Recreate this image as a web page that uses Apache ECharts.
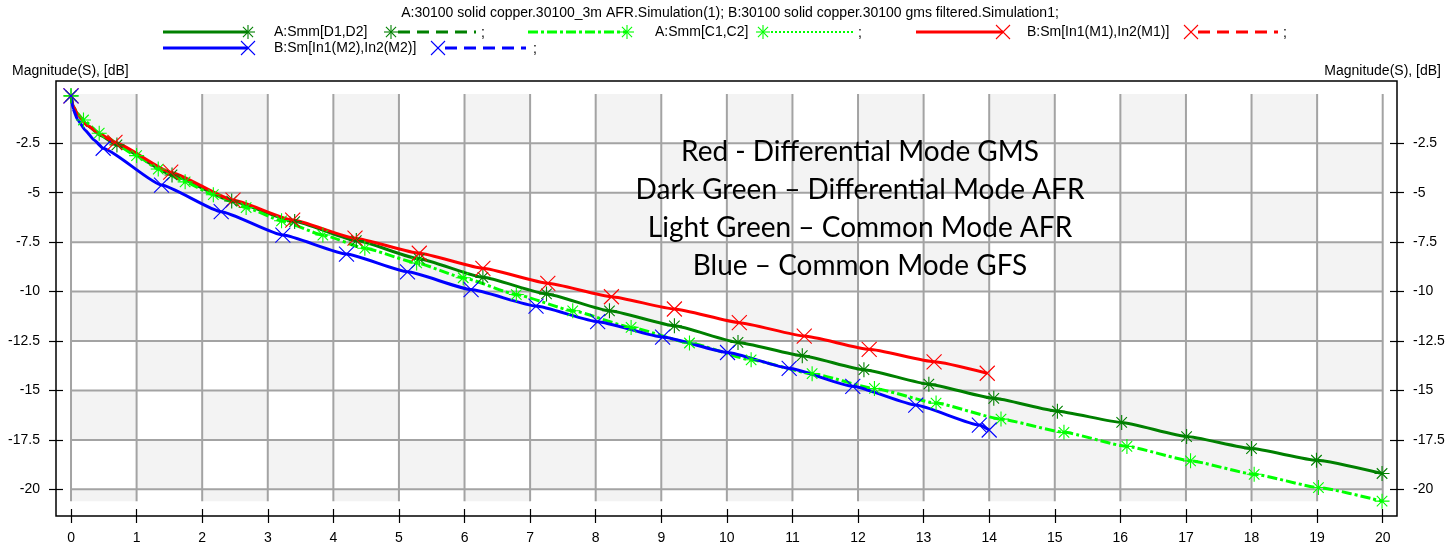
<!DOCTYPE html>
<html>
<head>
<meta charset="utf-8">
<script src="https://cdn.jsdelivr.net/npm/echarts@6/dist/echarts.min.js"></script>
<style>
  html, body { margin: 0; padding: 0; background: #fff; }
  #chart { width: 1445px; height: 550px; }
</style>
</head>
<body>
<div id="chart"></div>
<script>
// ---- text ----
const chartTitle = 'A:30100 solid copper.30100_3m AFR.Simulation(1); B:30100 solid copper.30100 gms filtered.Simulation1;';
const axisName = 'Magnitude(S), [dB]';
const seriesNames = ['A:Smm[D1,D2]', 'A:Smm[C1,C2]', 'B:Sm[In1(M1),In2(M1)]', 'B:Sm[In1(M2),In2(M2)]'];
const noteLines = [
  'Red - Differential Mode GMS',
  'Dark Green \u2013 Differential Mode AFR',
  'Light Green \u2013 Common Mode AFR',
  'Blue \u2013 Common Mode GFS'
];

// ---- ticks ----
const xTicks = [0, 1, 2, 3, 4, 5, 6, 7, 8, 9, 10, 11, 12, 13, 14, 15, 16, 17, 18, 19, 20];
const yTicks = [-2.5, -5, -7.5, -10, -12.5, -15, -17.5, -20];
const yBands = [0, -2.5, -5, -7.5, -10, -12.5, -15, -17.5, -20, -20.6];

// ---- data: [x, dB] ; "marked" points carry a marker, "shape" points do not ----
const dmAfrMarked = [[0, -0.1], [0.70, -2.58], [1.54, -4.10], [2.45, -5.42], [3.41, -6.46], [4.35, -7.42],
  [5.31, -8.35], [6.28, -9.28], [7.25, -10.12], [8.21, -10.97], [9.2, -11.73], [10.17, -12.57],
  [11.15, -13.24], [12.09, -13.95], [13.08, -14.68], [14.07, -15.40], [15.04, -16.05], [16.02, -16.62],
  [17.01, -17.33], [18.0, -17.94], [18.99, -18.53], [19.99, -19.2]];
const dmAfrShape = [[0.03, -0.6], [0.1, -1.05], [0.25, -1.6], [0.45, -2.1]];

const cmAfrMarked = [[0, -0.1], [0.19, -1.32], [0.43, -1.99], [1.0, -3.12], [1.33, -3.8], [1.74, -4.45],
  [2.17, -5.1], [2.67, -5.75], [3.21, -6.42], [3.84, -7.14], [4.48, -7.81], [5.27, -8.55], [5.98, -9.3],
  [6.79, -10.15], [7.65, -10.97], [8.54, -11.81], [9.43, -12.6], [10.37, -13.45], [11.3, -14.15],
  [12.25, -14.9], [13.19, -15.64], [14.18, -16.45], [15.14, -17.12], [16.1, -17.83], [17.07, -18.56],
  [18.04, -19.24], [19.02, -19.91], [19.99, -20.6]];
const cmAfrShape = [[0.03, -0.6], [0.09, -0.95]];

const dmGmsMarked = [[0, -0.1], [0.67, -2.45], [1.52, -3.96], [2.47, -5.37], [3.38, -6.38], [4.33, -7.30],
  [5.31, -8.06], [6.28, -8.82], [7.27, -9.58], [8.24, -10.26], [9.2, -10.88], [10.19, -11.57],
  [11.18, -12.25], [12.17, -12.92], [13.16, -13.55], [13.97, -14.13]];
const dmGmsShape = [[0.03, -0.6], [0.1, -1.05], [0.25, -1.6], [0.45, -2.05]];

const cmGfsMarked = [[0, -0.1], [0.49, -2.75], [1.38, -4.61], [2.29, -5.96], [3.23, -7.14], [4.2, -8.1],
  [5.13, -9.0], [6.1, -9.9], [7.09, -10.73], [8.03, -11.52], [9.02, -12.3], [10.01, -13.08],
  [10.95, -13.88], [11.92, -14.79], [12.88, -15.74], [13.85, -16.75], [14.0, -17.0]];
const cmGfsShape = [[0.03, -0.75], [0.1, -1.3], [0.22, -1.85], [0.35, -2.33]];

// ---- styling ----
const UI_FONT = "'Liberation Sans', Arial, sans-serif";
const NOTE_FONT = "Lato, 'Open Sans', sans-serif";
const C_DKGREEN = '#008000', C_LTGREEN = '#00ff00', C_RED = '#ff0000', C_BLUE = '#0000ff';
const STAR = 'path://M6,0L6,12M0,6L12,6M1.8,1.8L10.2,10.2M10.2,1.8L1.8,10.2';
const CROSS = 'path://M0,0L12,12M12,0L0,12';
const DASH_DOT = [10, 3, 3, 3];

// axis frame extends a little past the shaded data area
const X_MIN = -0.229, X_MAX = 20.218, Y_MIN = -21.35, Y_MAX = 0.652;

function buildData(marked, shape) {
  const pts = marked.map(p => ({ value: p }))
    .concat(shape.map(p => ({ value: p, symbol: 'none' })));
  pts.sort((a, b) => a.value[0] - b.value[0]);
  return pts;
}

function lineSeries(name, marked, shape, color, symbol, dash, size) {
  return {
    type: 'line', name, data: buildData(marked, shape),
    xAxisIndex: 0, yAxisIndex: 0,
    smooth: 0.15, smoothMonotone: 'x',
    symbol, symbolSize: size, showSymbol: true,
    lineStyle: { color, width: 3, type: dash },
    itemStyle: { color: 'rgba(0,0,0,0)', borderColor: color, borderWidth: 1.1 },
    z: 5, silent: true
  };
}

// checkerboard cells and grid segments built from tick positions
const cells = [];
for (let i = 0; i < xTicks.length - 1; i++) {
  for (let j = 0; j < yBands.length - 1; j++) {
    if ((i + j) % 2 === 0) cells.push([xTicks[i], xTicks[i + 1], yBands[j], yBands[j + 1]]);
  }
}
const gridSegs = [];
xTicks.forEach(x => gridSegs.push([x, yBands[0], x, yBands[yBands.length - 1]]));
yTicks.forEach(y => gridSegs.push([xTicks[0], y, xTicks[xTicks.length - 1], y]));

// ---- legend drawing helpers ----
function markerLines(kind, cx, cy, r, color) {
  const d = r * 0.72;
  const segs = kind === 'star'
    ? [[-r, 0, r, 0], [0, -r, 0, r], [-d, -d, d, d], [d, -d, -d, d]]
    : [[-r, -r, r, r], [r, -r, -r, r]];
  return segs.map(s => ({
    type: 'line', silent: true, z: 100,
    shape: { x1: cx + s[0], y1: cy + s[1], x2: cx + s[2], y2: cy + s[3] },
    style: { stroke: color, lineWidth: 1.1 }
  }));
}
function seg(x1, x2, y, color, width, dash) {
  return { type: 'line', silent: true, z: 100, shape: { x1, y1: y, x2, y2: y },
    style: { stroke: color, lineWidth: width, lineDash: dash || null } };
}
function txt(x, y, text, opts) {
  return { type: 'text', x, y, silent: true, z: 100,
    style: Object.assign({ text, fill: '#000', font: '14px ' + UI_FONT, textAlign: 'left', textVerticalAlign: 'middle' }, opts || {}) };
}

const legendItems = [];
// row 1
legendItems.push(seg(163, 248, 32, C_DKGREEN, 3), ...markerLines('star', 248, 32, 7, C_DKGREEN),
  txt(274, 32, seriesNames[0]), ...markerLines('star', 391, 32, 7, C_DKGREEN),
  seg(398, 476, 32, C_DKGREEN, 3, [12, 7]), txt(481, 33, ';'));
legendItems.push(seg(528, 627, 32, C_LTGREEN, 3, DASH_DOT), ...markerLines('star', 627, 32, 7, C_LTGREEN),
  txt(655, 32, seriesNames[1]), ...markerLines('star', 763, 32, 7, C_LTGREEN),
  seg(771, 855, 32, C_LTGREEN, 2, [2, 2]), txt(858, 33, ';'));
legendItems.push(seg(916, 1003, 32, C_RED, 3), ...markerLines('cross', 1003, 32, 7, C_RED),
  txt(1027, 32, seriesNames[2]), ...markerLines('cross', 1191, 32, 7, C_RED),
  seg(1198, 1278, 32, C_RED, 3, [12, 7]), txt(1283, 33, ';'));
// row 2
legendItems.push(seg(163, 248, 48, C_BLUE, 3), ...markerLines('cross', 248, 48, 7, C_BLUE),
  txt(274, 48, seriesNames[3]), ...markerLines('cross', 438, 48, 7, C_BLUE),
  seg(445, 526, 48, C_BLUE, 3, [12, 7]), txt(533, 49, ';'));

const noteItems = noteLines.map((t, i) => ({
  type: 'text', x: 860, y: 152 + i * 38, silent: true, z: 100,
  style: { text: t, fill: '#000', font: '28px ' + NOTE_FONT, textAlign: 'center', textVerticalAlign: 'middle' }
}));

const labelStyle = { color: '#000', fontSize: 14, fontFamily: UI_FONT };

function yAxisDef(position, inside, showLabel) {
  return {
    type: 'value', position, min: Y_MIN, max: Y_MAX,
    axisLine: { show: false, onZero: false },
    splitLine: { show: false },
    axisTick: { show: true, inside, length: 7, customValues: yTicks, lineStyle: { color: '#000', width: 1.2 } },
    axisLabel: Object.assign({ show: showLabel, customValues: yTicks, margin: 16 }, labelStyle)
  };
}
function xAxisDef(inside, showLabel) {
  return {
    type: 'value', position: 'bottom', min: X_MIN, max: X_MAX,
    axisLine: { show: false, onZero: false },
    splitLine: { show: false },
    axisTick: { show: true, inside, length: 7, customValues: xTicks, lineStyle: { color: '#000', width: 1.2 } },
    axisLabel: Object.assign({ show: showLabel, customValues: xTicks, margin: 15 }, labelStyle)
  };
}

const chart = echarts.init(document.getElementById('chart'), null, { renderer: 'canvas' });
chart.setOption({
  animation: false,
  backgroundColor: '#fff',
  grid: { left: 56, top: 81, right: 48, bottom: 34, show: true, borderColor: '#000', borderWidth: 1.5,
    backgroundColor: '#fff', containLabel: false, outerBoundsMode: 'none' },
  xAxis: [xAxisDef(false, true), xAxisDef(true, false)],
  yAxis: [yAxisDef('left', false, true), yAxisDef('right', false, true), yAxisDef('left', true, false), yAxisDef('right', true, false)],
  graphic: [
    { type: 'text', x: 730, y: 13, silent: true, z: 100,
      style: { text: chartTitle, fill: '#000', font: '14px ' + UI_FONT, textAlign: 'center', textVerticalAlign: 'middle' } },
    txt(12, 71, axisName),
    txt(1441, 71, axisName, { textAlign: 'right' }),
    ...legendItems,
    ...noteItems
  ],
  series: [
    {
      type: 'custom', name: 'cells', data: cells, xAxisIndex: 0, yAxisIndex: 0, z: 0, silent: true,
      encode: { x: [0, 1], y: [2, 3] },
      renderItem: (params, api) => {
        const p0 = api.coord([api.value(0), api.value(2)]);
        const p1 = api.coord([api.value(1), api.value(3)]);
        return { type: 'rect', shape: { x: p0[0], y: p0[1], width: p1[0] - p0[0], height: p1[1] - p0[1] },
          style: { fill: '#f3f3f3' } };
      }
    },
    {
      type: 'custom', name: 'gridlines', data: gridSegs, xAxisIndex: 0, yAxisIndex: 0, z: 1, silent: true,
      encode: { x: [0, 2], y: [1, 3] },
      renderItem: (params, api) => {
        const p0 = api.coord([api.value(0), api.value(1)]);
        const p1 = api.coord([api.value(2), api.value(3)]);
        return { type: 'line', shape: { x1: p0[0], y1: p0[1], x2: p1[0], y2: p1[1] },
          style: { stroke: '#a3a3a3', lineWidth: 2 } };
      }
    },
    lineSeries(seriesNames[0], dmAfrMarked, dmAfrShape, C_DKGREEN, STAR, 'solid', 15),
    lineSeries(seriesNames[1], cmAfrMarked, cmAfrShape, C_LTGREEN, STAR, DASH_DOT, 15),
    lineSeries(seriesNames[2], dmGmsMarked, dmGmsShape, C_RED, CROSS, 'solid', 15),
    lineSeries(seriesNames[3], cmGfsMarked, cmGfsShape, C_BLUE, CROSS, 'solid', 15)
  ]
});
</script>
</body>
</html>
